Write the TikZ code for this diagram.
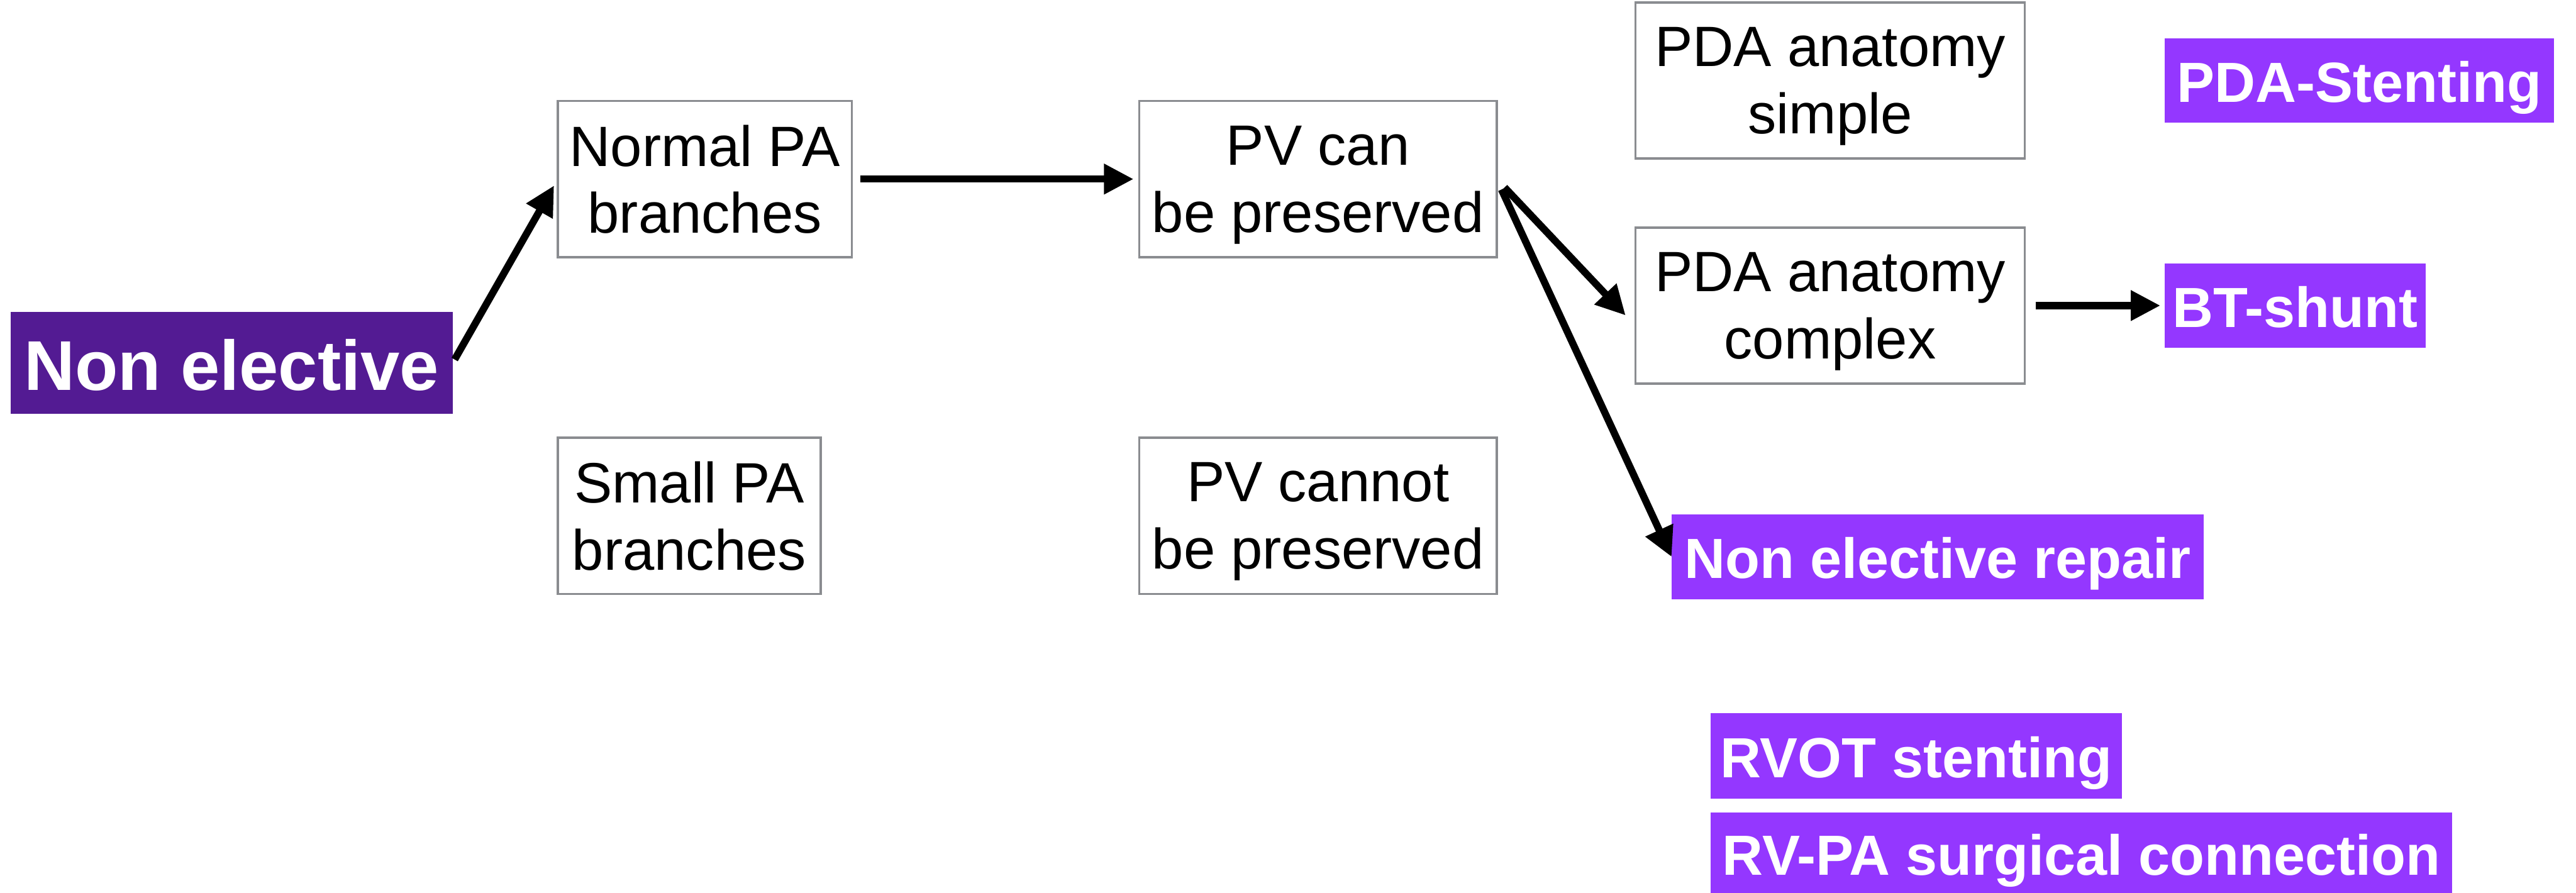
\documentclass[tikz,border=0pt]{standalone}
\usepackage{fontspec}
\setmainfont{Liberation Sans}
\usepackage{xcolor}
\usepackage{tikz}
\usetikzlibrary{arrows.meta, positioning}

\definecolor{grape}{HTML}{531B93}
\definecolor{lavender}{HTML}{9437FF}
\definecolor{boxgray}{HTML}{8A8C90}

\begin{document}
\begin{tikzpicture}[
    node distance=0.8cm,
    cond/.style={draw=boxgray, line width=0.75pt, fill=white, align=center, inner sep=0pt, outer sep=0pt, text depth=0pt, font=\fontsize{19.7}{23.3}\selectfont, minimum height=1.9cm},
    pick/.style={fill=lavender, text=white, inner sep=0pt, outer sep=0pt, text height=15pt, text depth=0pt, font=\bfseries\fontsize{19.6}{23}\selectfont, minimum height=1.03cm},
    edge/.style={-{Triangle[length=0.36cm, width=0.35cm]}, line width=2.5pt}
]
    \useasboundingbox (0,0) rectangle (31.36,-10.868);

    \node[pick, fill=grape, font=\bfseries\fontsize{24.4}{28}\selectfont, text height=19pt, minimum width=5.38cm, minimum height=1.24cm] (ne) at (2.82,-4.42) {Non elective};

    \node[cond, minimum width=3.58cm] (npa) at (8.58,-2.18) {Normal PA\\branches};
    \node[cond, minimum width=3.2cm, below=2.2cm of npa.south west, anchor=north west] (spa) {Small PA\\branches};

    \node[cond, minimum width=4.35cm, right=3.5cm of npa] (pvc) {PV can\\be preserved};
    \node[cond, minimum width=4.35cm, below=2.2cm of pvc] (pvn) {PV cannot\\be preserved};

    \node[cond, minimum width=4.74cm] (pdas) at (22.28,-0.98) {PDA anatomy\\simple};
    \node[cond, minimum width=4.74cm, below=0.84cm of pdas] (pdac) {PDA anatomy\\complex};

    \node[pick, minimum width=4.74cm, right=1.7cm of pdas] (stent) {PDA-Stenting};
    \node[pick, minimum width=3.18cm, right=1.7cm of pdac] (bt) {BT-shunt};
    \node[pick, minimum width=6.48cm] (ner) at (23.59,-6.78) {Non elective repair};

    \node[pick, minimum width=5.01cm, minimum height=1.04cm] (rvot) at (23.33,-9.2) {RVOT stenting};
    \node[pick, minimum width=9.03cm, minimum height=1.0cm, below=0.17cm of rvot.south west, anchor=north west] (rvpa) {RV-PA surgical connection};

    \draw[edge, shorten <=0.05cm, shorten >=0.09cm] (ne.east) -- (npa.west);
    \draw[edge, shorten <=0.1cm, shorten >=0.07cm] (npa) -- (pvc);
    \draw[edge, shorten <=0.14cm] (pvc.east) -- ([xshift=-0.12cm, yshift=-0.12cm]pdac.west);
    \draw[edge, shorten <=0.14cm] (pvc.east) -- (ner.west);
    \draw[edge, shorten <=0.13cm, shorten >=0.05cm] (pdac.east) -- (bt.west);

\end{tikzpicture}
\end{document}
